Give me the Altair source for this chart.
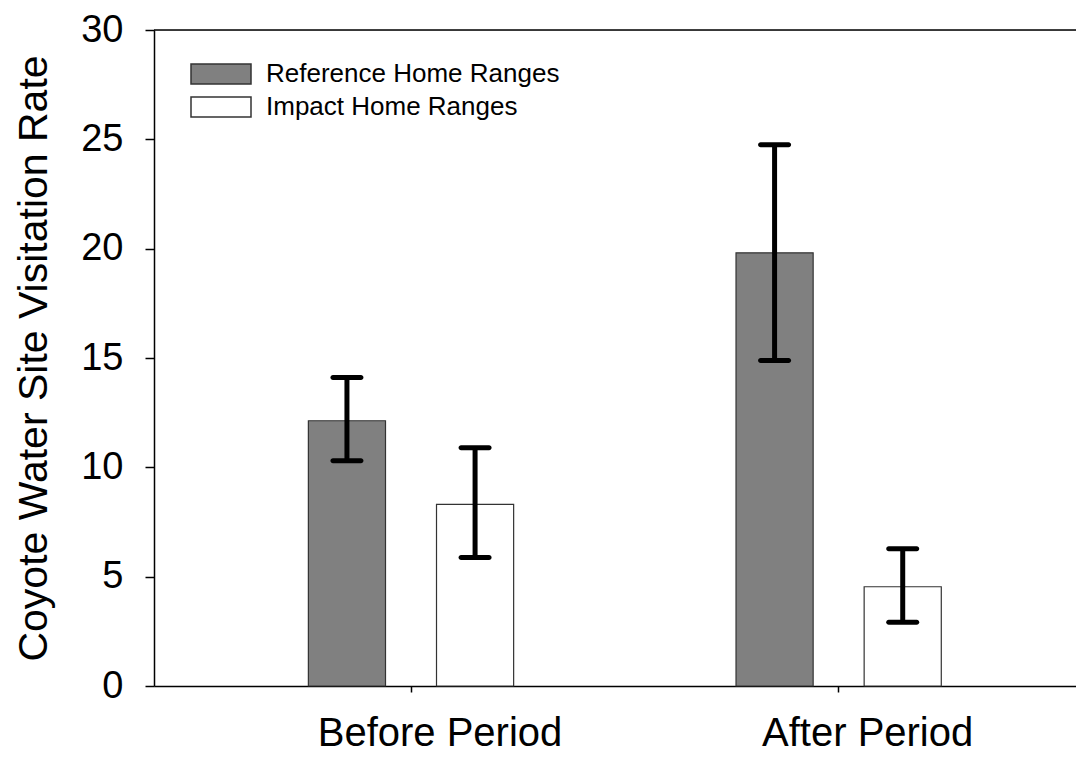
import altair as alt
import pandas as pd

periods = ["Before Period", "Before Period", "After Period", "After Period"]
groups = ["Reference Home Ranges", "Impact Home Ranges", "Reference Home Ranges", "Impact Home Ranges"]
means = [12.13, 8.31, 19.81, 4.54]
lower = [10.30, 5.88, 14.89, 2.91]
upper = [14.11, 10.90, 24.75, 6.28]

period_order = ["Before Period", "After Period"]
group_order = ["Reference Home Ranges", "Impact Home Ranges"]
group_colors = ["#808080", "#ffffff"]
y_ticks = [0, 5, 10, 15, 20, 25, 30]
y_max = 30

df = pd.DataFrame({"period": periods, "group": groups, "mean": means,
                   "lower": lower, "upper": upper})

FONT = "Liberation Sans"

x_scale = alt.Scale(paddingInner=0.52, paddingOuter=0.338, align=0.534)
x_enc = alt.X("period:N", sort=period_order, title=None, scale=x_scale,
              axis=alt.Axis(labelAngle=0, labelFontSize=40, labelColor="black",
                            labelFont=FONT, labelLimit=600, tickSize=6, tickColor="black",
                            domainColor="black", domainWidth=1.5, tickWidth=1.5,
                            labelPadding=21, labelOffset=29))
xo_enc = alt.XOffset("group:N", sort=group_order,
                     scale=alt.Scale(paddingInner=0.398, paddingOuter=0))
y_scale = alt.Scale(domain=[0, y_max], nice=False, zero=True)

bars = alt.Chart(df).mark_bar(stroke="#333333", strokeWidth=1.2).encode(
    x=x_enc,
    xOffset=xo_enc,
    y=alt.Y("mean:Q", scale=y_scale, title="Coyote Water Site Visitation Rate",
            axis=alt.Axis(values=y_ticks, tickSize=9, labelFontSize=38,
                          labelColor="black", labelFont=FONT, labelPadding=22,
                          titleFontSize=41, titleFont=FONT, titleFontWeight="normal",
                          titleColor="black", titlePadding=25, grid=False,
                          domainColor="black", domainWidth=1.5, tickColor="black",
                          tickWidth=1.5)),
    fill=alt.Fill("group:N", sort=group_order,
                  scale=alt.Scale(domain=group_order, range=group_colors),
                  legend=alt.Legend(title=None, orient="none", legendX=54, legendY=31,
                                    symbolType="M-3,-1H3V1H-3Z", symbolSize=400,
                                    symbolStrokeColor="#333333", symbolStrokeWidth=1.5,
                                    labelFontSize=26, labelFont=FONT, labelColor="black",
                                    labelLimit=600, labelOffset=32, rowPadding=7)),
)

rules = alt.Chart(df).mark_rule(color="black", strokeWidth=5).encode(
    x=alt.X("period:N", sort=period_order, scale=x_scale),
    xOffset=xo_enc,
    y=alt.Y("lower:Q", scale=y_scale),
    y2="upper:Q",
)

caps_hi = alt.Chart(df).mark_tick(color="black", size=33, thickness=5,
                                  cornerRadius=2.5, opacity=1).encode(
    x=alt.X("period:N", sort=period_order, scale=x_scale),
    xOffset=xo_enc,
    y=alt.Y("upper:Q", scale=y_scale),
)
caps_lo = alt.Chart(df).mark_tick(color="black", size=33, thickness=5,
                                  cornerRadius=2.5, opacity=1).encode(
    x=alt.X("period:N", sort=period_order, scale=x_scale),
    xOffset=xo_enc,
    y=alt.Y("lower:Q", scale=y_scale),
)

top_line = alt.Chart(pd.DataFrame({"top": [y_max]})).mark_rule(
    color="black", strokeWidth=1.5).encode(y=alt.Y("top:Q", scale=y_scale))

chart = alt.layer(bars, rules, caps_hi, caps_lo, top_line).properties(
    width=922, height=656,
    autosize=alt.AutoSizeParams(type="none"),
    padding={"left": 146, "top": 22, "right": 0, "bottom": 68},
).configure_view(stroke=None).configure(font=FONT)

chart.save("out.html", embed_options={"renderer": "svg", "actions": False})
